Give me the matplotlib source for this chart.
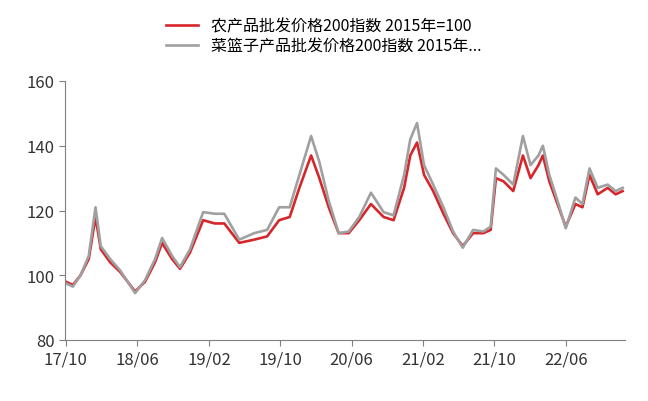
import matplotlib
matplotlib.use("Agg")
from matplotlib import pyplot as plt
from matplotlib import font_manager
import matplotlib.dates as mdates
import numpy as np

# pick whatever CJK family is actually registered
names = {f.name for f in font_manager.fontManager.ttflist}
cjk = [n for n in ["Noto Sans CJK SC", "Noto Sans CJK JP", "Noto Sans CJK TC", "Noto Sans CJK KR"]
       if n in names]
plt.rcParams["font.family"] = cjk + ["DejaVu Sans"]

dates = ["2017-10-01", "2017-10-25", "2017-11-20", "2017-12-18", "2018-01-10", "2018-01-28",
         "2018-03-01", "2018-04-04", "2018-05-25", "2018-06-28", "2018-08-01", "2018-08-25",
         "2018-09-28", "2018-10-25", "2018-11-28", "2019-01-12", "2019-02-20", "2019-03-25",
         "2019-05-15", "2019-07-05", "2019-08-18", "2019-09-28", "2019-11-03", "2019-12-06",
         "2020-01-15", "2020-02-12", "2020-03-15", "2020-04-18", "2020-05-22", "2020-06-27",
         "2020-08-06", "2020-09-18", "2020-10-22", "2020-11-27", "2020-12-18", "2021-01-10",
         "2021-02-03", "2021-03-06", "2021-04-10", "2021-05-13", "2021-06-15", "2021-07-20",
         "2021-08-24", "2021-09-18", "2021-10-06", "2021-11-01", "2021-12-04", "2022-01-06",
         "2022-02-01", "2022-02-28", "2022-03-15", "2022-04-06", "2022-05-04", "2022-06-01",
         "2022-07-04", "2022-07-28", "2022-08-21", "2022-09-18", "2022-10-22", "2022-11-18",
         "2022-12-12"]

agri_index = [98, 97, 100, 105, 118, 108, 104, 101, 95, 98, 104, 110,
              105, 102, 107, 117, 116, 116, 110, 111, 112, 117, 118, 127,
              137, 130, 121, 113, 113, 117, 122, 118, 117, 127, 137, 141,
              131, 126, 119, 113, 109, 113, 113, 114, 130, 129, 126, 137,
              130, 134, 137, 129, 122, 115, 122, 121, 131, 125, 127, 125,
              126]

basket_index = [97.5, 96.5, 100, 106, 121, 109, 105, 101.5, 94.5, 98.5, 105, 111.5,
                106, 102.5, 108, 119.5, 119, 119, 111, 113, 114, 121, 121, 131,
                143, 135, 123, 113, 113.5, 118, 125.5, 119.5, 118.5, 131, 142, 147,
                134, 128, 121, 113.5, 108.5, 114, 113.5, 115, 133, 131, 128, 143,
                134, 137, 140, 131, 123, 114.5, 124, 122, 133, 127, 128, 126,
                127]

tick_dates = ["2017-10-01", "2018-06-01", "2019-02-01", "2019-10-01",
              "2020-06-01", "2021-02-01", "2021-10-01", "2022-06-01"]

x = np.array(dates, dtype="datetime64[D]")
fig = plt.figure(figsize=(6.48, 4.02), dpi=100)
ax = fig.add_axes([65 / 648, 1 - 341 / 402, 560 / 648, 259 / 402])

ax.plot(x, agri_index, color="#d7262b", lw=1.9, label="农产品批发价格200指数 2015年=100")
ax.plot(x, basket_index, color="#a0a0a0", lw=1.9, label="菜篮子产品批发价格200指数 2015年...")

ax.set_ylim(80, 160)
ax.set_yticks([80, 100, 120, 140, 160])
ax.set_xlim(np.datetime64("2017-09-28"), np.datetime64("2022-12-20"))
ax.set_xticks(np.array(tick_dates, dtype="datetime64[D]"))
ax.xaxis.set_major_formatter(mdates.DateFormatter("%y/%m"))
for side in ["top", "right"]:
    ax.spines[side].set_visible(False)
for side in ["left", "bottom"]:
    ax.spines[side].set_color("#808080")
ax.tick_params(labelsize=12, colors="#333333", length=4, color="#808080")

fig.legend(loc="upper center", bbox_to_anchor=(0.5, 0.99), frameon=False,
           fontsize=11.5, handlelength=2.0, labelspacing=0.2)
fig.savefig("out.png", dpi=100)
